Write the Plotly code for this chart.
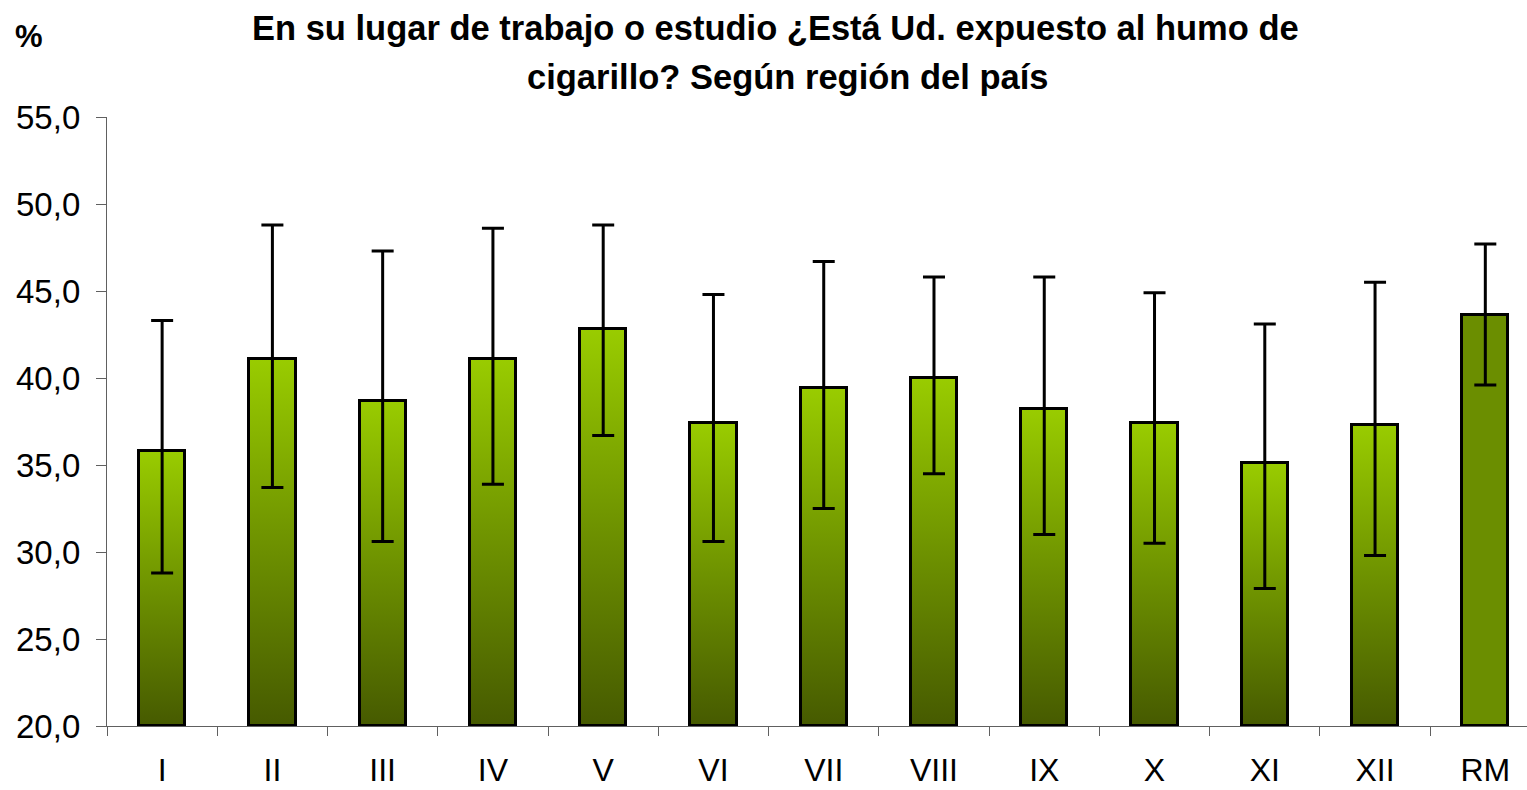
import plotly.graph_objects as go

# Exposure to cigarette smoke at work/study, by region (%), with 95% CI
regions = ["I", "II", "III", "IV", "V", "VI", "VII", "VIII", "IX", "X", "XI", "XII", "RM"]
pct = [35.8, 41.1, 38.7, 41.1, 42.8, 37.4, 39.4, 40.0, 38.2, 37.4, 35.1, 37.3, 43.6]
ci_low = [28.8, 33.7, 30.6, 33.9, 36.7, 30.6, 32.5, 34.5, 31.0, 30.5, 27.9, 29.8, 39.6]
ci_high = [43.3, 48.8, 47.3, 48.6, 48.8, 44.8, 46.7, 45.8, 45.8, 44.9, 43.1, 45.5, 47.7]
y_ticks = [20, 25, 30, 35, 40, 45, 50, 55]

Y_MIN, Y_MAX = 20, 55
BAR_W = 0.42
FONT = "Liberation Sans, Arial, sans-serif"
GRAD = [[0, "#465A00"], [0.5, "#6E9200"], [1, "#99CC00"]]
SOLID = "#6B8E00"

xs = list(range(len(regions)))
fig = go.Figure()

# gradient-filled bar bodies (base axes, drawn underneath)
for i, (x, v) in enumerate(zip(xs, pct)):
    x0, x1 = x - BAR_W / 2, x + BAR_W / 2
    kw = dict(fillcolor=SOLID) if regions[i] == "RM" else dict(
        fillgradient=dict(type="vertical", colorscale=GRAD))
    fig.add_trace(go.Scatter(
        x=[x0, x1, x1, x0, x0], y=[Y_MIN, Y_MIN, v, v, Y_MIN],
        mode="lines", fill="toself", line=dict(width=0),
        hoverinfo="skip", showlegend=False, xaxis="x", yaxis="y", **kw))

# bar outlines with confidence intervals (overlay axes, drawn on top)
fig.add_trace(go.Bar(
    x=xs, y=[v - Y_MIN for v in pct], base=Y_MIN, width=BAR_W,
    marker=dict(color="rgba(0,0,0,0)", line=dict(color="black", width=3)),
    error_y=dict(type="data", symmetric=False,
                 array=[h - v for h, v in zip(ci_high, pct)],
                 arrayminus=[v - l for v, l in zip(pct, ci_low)],
                 color="black", thickness=3, width=11),
    showlegend=False, xaxis="x2", yaxis="y2"))

x_range = [-0.5, 12.378]
axis_line = "#606060"
fig.update_layout(
    width=1527, height=790,
    margin=dict(l=107, r=0, t=117, b=64, autoexpand=False),
    plot_bgcolor="white", paper_bgcolor="white",
    separators=",.",
    font=dict(family=FONT, color="black"),
    xaxis=dict(range=x_range, tickvals=xs, ticktext=regions, ticks="",
               tickfont=dict(size=32), showline=True, linecolor=axis_line,
               linewidth=1.3, showgrid=False, zeroline=False, automargin=False,
               ticklabelstandoff=15,
               minor=dict(tickvals=[x - 0.5 for x in xs] + [12.5], ticks="outside",
                          ticklen=9, tickcolor=axis_line, tickwidth=1.3)),
    yaxis=dict(range=[Y_MIN, Y_MAX], tickvals=y_ticks, tickformat=".1f",
               ticks="outside", ticklen=10, tickcolor=axis_line, tickwidth=1.3,
               tickfont=dict(size=33), showline=True, linecolor=axis_line,
               linewidth=1.3, showgrid=False, zeroline=False, automargin=False,
               ticklabelstandoff=9),
    xaxis2=dict(range=x_range, overlaying="x", visible=False),
    yaxis2=dict(range=[Y_MIN, Y_MAX], overlaying="y", visible=False),
    bargap=0,
)

title_lines = ["En su lugar de trabajo o estudio ¿Está Ud. expuesto al humo de",
               "cigarillo? Según región del país"]
for line, cx, py in zip(title_lines, [775.5, 787.5], [28, 77]):
    fig.add_annotation(text=f"<b>{line}</b>", xref="paper", yref="paper",
                       x=(cx - 107) / 1420, y=(726 - py) / 609,
                       xanchor="center", yanchor="middle", showarrow=False,
                       font=dict(size=34.5, family=FONT))
fig.add_annotation(text="<b>%</b>", xref="paper", yref="paper",
                   x=(29 - 107) / 1420, y=(726 - 36) / 609,
                   xanchor="center", yanchor="middle", showarrow=False,
                   font=dict(size=31, family=FONT))

fig.write_html("out.html")
